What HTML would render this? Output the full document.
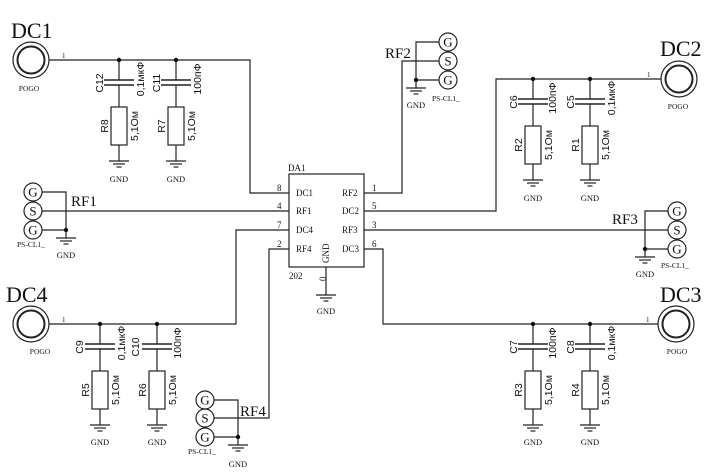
<!DOCTYPE html>
<html><head><meta charset="utf-8"><style>
html,body{margin:0;padding:0;background:#fff;}
svg{display:block;}
.s{font-family:"Liberation Sans","DejaVu Sans",sans-serif;}
.r{font-family:"Liberation Serif",serif;}
</style></head><body>
<svg width="725" height="475" viewBox="0 0 725 475" xmlns="http://www.w3.org/2000/svg" stroke="#222" fill="none" stroke-width="1.2">
<defs>
<g id="gnd"><line x1="-10" y1="0" x2="10" y2="0"/><line x1="-6" y1="3" x2="6" y2="3"/><line x1="-2.5" y1="6" x2="2.5" y2="6"/></g>
<g id="br">
<line x1="0" y1="0" x2="0" y2="20"/>
<line x1="-15" y1="20" x2="15" y2="20" stroke-width="1.6"/>
<line x1="-15" y1="25" x2="15" y2="25" stroke-width="1.6"/>
<line x1="0" y1="25" x2="0" y2="47"/>
<rect x="-8" y="47" width="16" height="38"/>
<line x1="0" y1="85" x2="0" y2="101"/>
<use href="#gnd" y="101"/>
<circle cx="0" cy="0" r="2.2" fill="#111" stroke="none"/>
</g>
<g id="pogo"><circle r="18" stroke-width="1.2"/><circle r="13.5" stroke-width="2"/></g>
</defs>

<!-- DC1 -->
<use href="#pogo" x="31" y="60"/>
<polyline points="49,60 250,60 250,193 289,193"/>
<use href="#br" x="119" y="60"/><use href="#br" x="176" y="60"/>
<!-- DC2 -->
<use href="#pogo" x="679" y="79"/>
<polyline points="661,79 496,79 496,211 364,211"/>
<use href="#br" x="533" y="79"/><use href="#br" x="590" y="79"/>
<!-- DC4 -->
<use href="#pogo" x="31" y="324"/>
<polyline points="49,324 236,324 236,230 289,230"/>
<use href="#br" x="100" y="324"/><use href="#br" x="157" y="324"/>
<!-- DC3 -->
<use href="#pogo" x="676" y="324"/>
<polyline points="658,324 383,324 383,249 364,249"/>
<use href="#br" x="533" y="324"/><use href="#br" x="590" y="324"/>

<!-- chip -->
<rect x="289" y="174" width="75" height="93"/>
<line x1="326" y1="267" x2="326" y2="295"/>
<use href="#gnd" x="326" y="295"/>

<!-- RF1 -->
<circle cx="33" cy="192" r="9"/><circle cx="33" cy="211" r="9"/><circle cx="33" cy="230" r="9"/>
<polyline points="42,192 66,192 66,238"/><line x1="42" y1="230" x2="66" y2="230"/>
<line x1="42" y1="211" x2="289" y2="211"/>
<circle cx="66" cy="230" r="2.2" fill="#111" stroke="none"/>
<use href="#gnd" x="66" y="238"/>
<!-- RF4 -->
<circle cx="205" cy="400" r="9"/><circle cx="205" cy="418" r="9"/><circle cx="205" cy="437" r="9"/>
<polyline points="214,400 238,400 238,445"/><line x1="214" y1="437" x2="238" y2="437"/>
<polyline points="214,418 269,418 269,249 289,249"/>
<circle cx="238" cy="437" r="2.2" fill="#111" stroke="none"/>
<use href="#gnd" x="238" y="445"/>
<!-- RF2 -->
<circle cx="448" cy="42" r="9"/><circle cx="448" cy="61" r="9"/><circle cx="448" cy="80" r="9"/>
<polyline points="439,42 416,42 416,88"/><line x1="439" y1="80" x2="416" y2="80"/>
<polyline points="439,61 402,61 402,193 364,193"/>
<circle cx="416" cy="80" r="2.2" fill="#111" stroke="none"/>
<use href="#gnd" x="416" y="88"/>
<!-- RF3 -->
<circle cx="677" cy="211" r="9"/><circle cx="677" cy="230" r="9"/><circle cx="677" cy="249" r="9"/>
<polyline points="668,211 645,211 645,257"/><line x1="668" y1="249" x2="645" y2="249"/>
<line x1="668" y1="230" x2="364" y2="230"/>
<circle cx="645" cy="249" r="2.2" fill="#111" stroke="none"/>
<use href="#gnd" x="645" y="257"/>

<g fill="#111" stroke="none">
<g class="r" font-size="22">
<text x="11" y="38">DC1</text><text x="660" y="56">DC2</text>
<text x="6" y="302">DC4</text><text x="660" y="302">DC3</text>
</g>
<g class="r" font-size="15">
<text x="71" y="206">RF1</text><text x="385" y="58">RF2</text>
<text x="612" y="224">RF3</text><text x="240" y="416">RF4</text>
</g>
<g class="r" font-size="13" text-anchor="middle">
<text x="33" y="196.5">G</text><text x="33" y="215.5">S</text><text x="33" y="234.5">G</text>
<text x="205" y="404.5">G</text><text x="205" y="422.5">S</text><text x="205" y="441.5">G</text>
<text x="448" y="46.5">G</text><text x="448" y="65.5">S</text><text x="448" y="84.5">G</text>
<text x="677" y="215.5">G</text><text x="677" y="234.5">S</text><text x="677" y="253.5">G</text>
</g>
<g class="r" font-size="7.5" text-anchor="middle">
<text x="29" y="91">POGO</text><text x="678" y="109">POGO</text>
<text x="40" y="354">POGO</text><text x="677" y="354">POGO</text>
</g>
<g class="r" font-size="7.5">
<text x="17" y="247">PS-CL1_</text><text x="432" y="101">PS-CL1_</text>
<text x="661" y="268">PS-CL1_</text><text x="188" y="454">PS-CL1_</text>
</g>
<g class="r" font-size="8.5" text-anchor="middle">
<text x="119" y="182">GND</text><text x="176" y="182">GND</text>
<text x="533" y="201">GND</text><text x="590" y="201">GND</text>
<text x="100" y="445">GND</text><text x="157" y="445">GND</text>
<text x="533" y="445">GND</text><text x="590" y="445">GND</text>
<text x="66" y="258">GND</text><text x="416" y="108">GND</text>
<text x="645" y="277">GND</text><text x="238" y="467">GND</text>
<text x="326" y="314">GND</text>
</g>
<g class="r" font-size="7">
<text x="62" y="58">1</text><text x="647" y="77">1</text>
<text x="62" y="322">1</text><text x="646" y="322">1</text>
</g>
<!-- chip text -->
<g class="r" font-size="9">
<text x="288" y="171">DA1</text><text x="289" y="279">202</text>
<text x="296" y="196">DC1</text><text x="296" y="214">RF1</text><text x="296" y="233">DC4</text><text x="296" y="252">RF4</text>
<text x="342" y="196">RF2</text><text x="342" y="214">DC2</text><text x="342" y="233">RF3</text><text x="342" y="252">DC3</text>
<text x="277" y="191">8</text><text x="277" y="209">4</text><text x="277" y="228">7</text><text x="277" y="247">2</text>
<text x="372" y="191">1</text><text x="372" y="209">5</text><text x="372" y="228">3</text><text x="372" y="247">6</text>
<text transform="translate(329,263) rotate(-90)">GND</text>
<text transform="translate(326,281) rotate(-90)">0</text>
</g>
<!-- branch labels -->
<g class="s" font-size="10.5" text-anchor="middle" dominant-baseline="central">
<text transform="translate(100,83) rotate(-90)">C12</text><text transform="translate(141,79) rotate(-90)">0,1мкФ</text>
<text transform="translate(105,126) rotate(-90)">R8</text><text transform="translate(135,126) rotate(-90)">5,1Ом</text>
<text transform="translate(157,83) rotate(-90)">C11</text><text transform="translate(198,79) rotate(-90)">100пФ</text>
<text transform="translate(162,126) rotate(-90)">R7</text><text transform="translate(192,126) rotate(-90)">5,1Ом</text>

<text transform="translate(514,102) rotate(-90)">C6</text><text transform="translate(553,98) rotate(-90)">100пФ</text>
<text transform="translate(519,145) rotate(-90)">R2</text><text transform="translate(549,145) rotate(-90)">5,1Ом</text>
<text transform="translate(571,102) rotate(-90)">C5</text><text transform="translate(612,98) rotate(-90)">0,1мкФ</text>
<text transform="translate(576,145) rotate(-90)">R1</text><text transform="translate(606,145) rotate(-90)">5,1Ом</text>

<text transform="translate(80,347) rotate(-90)">C9</text><text transform="translate(122,343) rotate(-90)">0,1мкФ</text>
<text transform="translate(86,390) rotate(-90)">R5</text><text transform="translate(116,390) rotate(-90)">5,1Ом</text>
<text transform="translate(136,347) rotate(-90)">C10</text><text transform="translate(178,343) rotate(-90)">100пФ</text>
<text transform="translate(143,390) rotate(-90)">R6</text><text transform="translate(173,390) rotate(-90)">5,1Ом</text>

<text transform="translate(514,347) rotate(-90)">C7</text><text transform="translate(553,343) rotate(-90)">100пФ</text>
<text transform="translate(519,390) rotate(-90)">R3</text><text transform="translate(549,390) rotate(-90)">5,1Ом</text>
<text transform="translate(571,347) rotate(-90)">C8</text><text transform="translate(612,343) rotate(-90)">0,1мкФ</text>
<text transform="translate(576,390) rotate(-90)">R4</text><text transform="translate(606,390) rotate(-90)">5,1Ом</text>
</g>
</g>
</svg>
</body></html>
